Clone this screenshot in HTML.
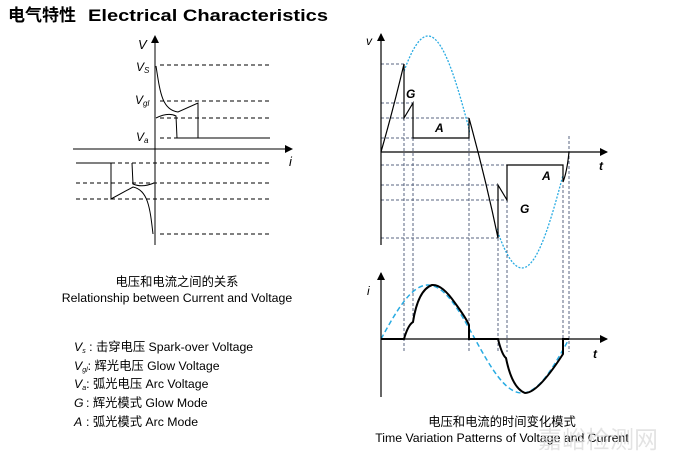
<!DOCTYPE html>
<html><head><meta charset="utf-8"><style>
body{margin:0;background:#fff;width:680px;height:455px;overflow:hidden;font-family:"Liberation Sans","Noto Sans CJK SC",sans-serif;}
</style></head><body>
<svg width="680" height="455" viewBox="0 0 680 455" xmlns="http://www.w3.org/2000/svg" font-family="Liberation Sans, Noto Sans CJK SC, sans-serif">
<defs>
<marker id="ar" markerWidth="8" markerHeight="8" refX="7" refY="4" orient="auto" markerUnits="userSpaceOnUse"><path d="M0,0 L8,4 L0,8 Z" fill="#000"/></marker>
<clipPath id="c1"><rect x="404" y="0" width="66" height="455"/><rect x="497" y="0" width="66" height="455"/></clipPath>
</defs>
<text x="8" y="21" font-size="17" font-weight="bold">电气特性</text>
<text x="88" y="21" font-size="17" font-weight="bold" textLength="240" lengthAdjust="spacingAndGlyphs">Electrical Characteristics</text>

<!-- left chart -->
<g stroke="#000" stroke-width="1" fill="none">
<line x1="155" y1="245" x2="155" y2="36" marker-end="url(#ar)"/>
<line x1="73" y1="149" x2="292" y2="149" marker-end="url(#ar)"/>
<g stroke-dasharray="4,3">
<line x1="160" y1="65" x2="270" y2="65"/><line x1="160" y1="101" x2="270" y2="101"/>
<line x1="160" y1="118" x2="270" y2="118"/><line x1="160" y1="138" x2="270" y2="138"/>
<line x1="76" y1="163" x2="270" y2="163"/><line x1="76" y1="183" x2="270" y2="183"/>
<line x1="76" y1="199" x2="270" y2="199"/><line x1="160" y1="234" x2="270" y2="234"/>
</g>
<path d="M156,66 C160,92 162,110 178,112 L198,103 L198,138 L270,138"/>
<path d="M156,118 Q168,112 176,116 L177,138 L198,138"/>
<path d="M153,234 C150,208 148,190 133,187 L111,199 L111,163 L77,163"/>
<path d="M154,183 Q142,188 133,184 L132,163"/>
</g>
<g font-size="12" font-style="italic">
<text x="138" y="49" font-size="13">V</text>
<text x="136" y="71">V<tspan font-size="8" dy="2">S</tspan></text>
<text x="135" y="104">V<tspan font-size="8" dy="2">gl</tspan></text>
<text x="136" y="141">V<tspan font-size="8" dy="2">a</tspan></text>
<text x="289" y="166" font-size="13">i</text>
</g>
<g font-size="12.3" text-anchor="middle">
<text x="177" y="286">电压和电流之间的关系</text>
<text x="177" y="302">Relationship between Current and Voltage</text>
</g>
<g font-size="12.3">
<text x="74" y="351"><tspan font-style="italic">V</tspan><tspan font-size="7" font-style="italic" dy="2">s</tspan><tspan dy="-2"> : 击穿电压  Spark-over Voltage</tspan></text>
<text x="74" y="370"><tspan font-style="italic">V</tspan><tspan font-size="7" font-style="italic" dy="2">gl</tspan><tspan dy="-2">: 辉光电压  Glow Voltage</tspan></text>
<text x="74" y="388"><tspan font-style="italic">V</tspan><tspan font-size="7" font-style="italic" dy="2">a</tspan><tspan dy="-2">: 弧光电压  Arc Voltage</tspan></text>
<text x="74" y="407"><tspan font-style="italic">G</tspan><tspan x="86">: 辉光模式  Glow Mode</tspan></text>
<text x="74" y="426"><tspan font-style="italic">A</tspan><tspan x="86">: 弧光模式  Arc Mode</tspan></text>
</g>

<!-- right top -->
<g fill="none">
<g stroke="#5a6680" stroke-width="1" stroke-dasharray="3,2">
<line x1="381" y1="64" x2="404" y2="64"/><line x1="381" y1="103" x2="413" y2="103"/>
<line x1="381" y1="118" x2="469" y2="118"/><line x1="381" y1="138" x2="413" y2="138"/>
<line x1="381" y1="165" x2="507" y2="165"/><line x1="381" y1="185" x2="498" y2="185"/>
<line x1="381" y1="200" x2="507" y2="200"/><line x1="381" y1="238" x2="498" y2="238"/>
<line x1="404" y1="118" x2="404" y2="352"/><line x1="413" y1="138" x2="413" y2="322"/>
<line x1="469" y1="138" x2="469" y2="352"/><line x1="498" y1="238" x2="498" y2="352"/>
<line x1="507" y1="200" x2="507" y2="352"/><line x1="563" y1="185" x2="563" y2="352"/>
<line x1="569" y1="136" x2="569" y2="352"/>
</g>
<path clip-path="url(#c1)" stroke="#29abe2" stroke-width="1.3" stroke-dasharray="2,1.5" d="M381,152 C396.3,92.6 411,36 428,36 C445,36 459.7,92.6 475,152 C490.3,211.4 505,268 522,268 C539,268 553.7,211.4 569,152"/>
<g stroke="#000" stroke-width="1.2">
<line x1="381" y1="245" x2="381" y2="34" marker-end="url(#ar)"/>
<line x1="381" y1="152" x2="607" y2="152" marker-end="url(#ar)"/>
<path d="M381,152 Q393,110 404,64 L404,118 L413,103 L413,138 L469,138 L469,118 Q486,180 498,238 L498,185 L507,200 L507,165 L563,165 L563,182 Q567,172 569,152"/>
</g>
</g>
<g font-size="12" font-style="italic" font-weight="bold">
<text x="366" y="45" font-weight="normal">v</text>
<text x="599" y="170">t</text>
<text x="406" y="98">G</text>
<text x="435" y="132">A</text>
<text x="542" y="180">A</text>
<text x="520" y="213">G</text>
</g>

<!-- right bottom -->
<g fill="none">
<path stroke="#29abe2" stroke-width="1.5" stroke-dasharray="5,3" d="M381,339 C396.3,311.3 411,285 428,285 C445,285 459.7,311.3 475,339 C490.3,366.7 505,393 522,393 C539,393 553.7,366.7 569,339"/>
<g stroke="#000">
<line x1="381" y1="397" x2="381" y2="273" marker-end="url(#ar)" stroke-width="1.2"/>
<line x1="381" y1="339" x2="607" y2="339" marker-end="url(#ar)" stroke-width="1.2"/>
<path stroke-width="2" d="M381,339 L404,339 Q408,325 413,322 Q418,290 432,285 Q442,284 455,303 Q466,318 469,325 L469,339 L498,339 Q502,355 506,358 Q512,388 525,393 Q538,393 563,354 L563,339 L569,339"/>
</g>
</g>
<g font-size="12" font-style="italic" font-weight="bold">
<text x="367" y="295" font-weight="normal">i</text>
<text x="593" y="358">t</text>
</g>
<g font-size="12.3" text-anchor="middle">
<text x="502" y="426">电压和电流的时间变化模式</text>
<text x="502" y="442">Time Variation Patterns of Voltage and Current</text>
</g>
<text x="598" y="448" font-size="24" fill="#ddd" text-anchor="middle" opacity="0.8">嘉峪检测网</text>
</svg>
</body></html>
